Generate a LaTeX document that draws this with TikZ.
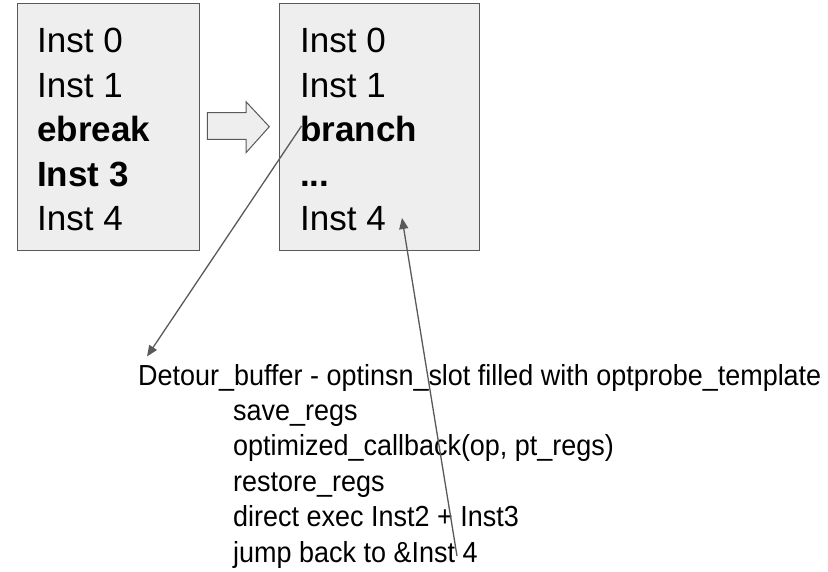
\documentclass[tikz,border=0pt]{standalone}
\usepackage{fontspec}
\setmainfont{Liberation Sans}
\newfontfamily\narrowsans[FakeStretch=0.93]{Liberation Sans}
\usetikzlibrary{arrows.meta}
\definecolor{edge}{HTML}{595959}
\definecolor{boxfill}{HTML}{EEEEEE}
\begin{document}
\begin{tikzpicture}[x=1pt,y=-1pt,
  box/.style={draw=edge,fill=boxfill,line width=1.3pt},
  codebox/.style={box,anchor=north west,inner sep=0pt},
  big/.style={anchor=base west,inner sep=0pt,font=\fontsize{35}{42}\selectfont},
  small/.style={anchor=base west,inner sep=0pt,font=\narrowsans\fontsize{29}{34}\selectfont},
  conn/.style={draw=edge,line width=1.3pt,-{Triangle[length=11pt,width=9pt]}}]
\useasboundingbox (0,0) rectangle (828,572);
% boxes
\node[codebox,minimum width=182pt,minimum height=247pt] (b1) at (17,3) {};
\node[codebox,minimum width=200pt,minimum height=247pt] (b2) at (279,3) {};
% left box text
\node[big] (l0) at (37,53) {Inst 0};
\node[big] (l1) at (37,97.5) {Inst 1};
\node[big] (l2) at (37,142) {\bfseries ebreak};
\node[big] (l3) at (37,186.5) {\bfseries Inst 3};
\node[big] (l4) at (37,230.5) {Inst 4};
% right box text
\node[big] (r0) at (300,53) {Inst 0};
\node[big] (r1) at (300,97.5) {Inst 1};
\node[big] (r2) at (300,142) {\bfseries branch};
\node[big] (r3) at (300,186.5) {\bfseries ...};
\node[big] (r4) at (300,230.5) {Inst 4};
% hollow arrow
\draw[box,line width=1pt] (207.3,112.7) -- (246,112.7) -- (246,101.7) -- (269.3,126.7)
  -- (246,152.7) -- (246,139.3) -- (207.3,139.3) -- cycle;
% bottom text
\node[small] (t0) at (138,385) {Detour\_buffer - optinsn\_slot filled with optprobe\_template};
\node[small] (t1) at (233,420.4) {save\_regs};
\node[small] (t2) at (233,455.8) {optimized\_callback(op, pt\_regs)};
\node[small] (t3) at (233,491.2) {restore\_regs};
\node[small] (t4) at (233,526.6) {direct exec Inst2 + Inst3};
\node[small] (t5) at (233,562) {jump back to \&Inst 4};
% connectors
\coordinate (a1s) at (301.5,126);
\coordinate (a1e) at (147,356.5);
\coordinate (a2s) at (457,556);
\coordinate (a2e) at (402,218);
\draw[conn] (a1s) -- (a1e);
\draw[conn] (a2s) -- (a2e);
\end{tikzpicture}
\end{document}
